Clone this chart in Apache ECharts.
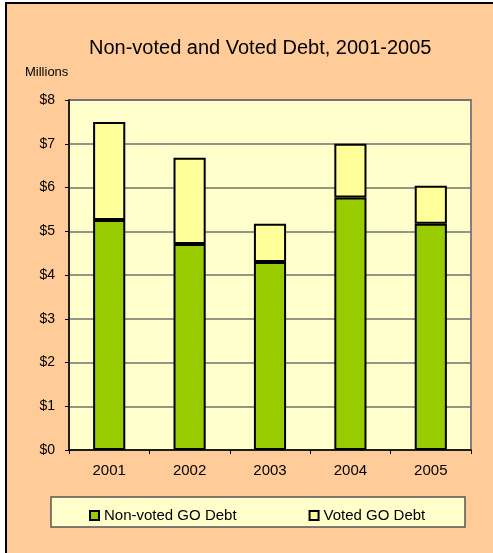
<!DOCTYPE html>
<html>
<head>
<meta charset="utf-8">
<script src="https://cdn.jsdelivr.net/npm/echarts@6/dist/echarts.min.js"></script>
<style>
html,body{margin:0;padding:0;background:#fff;overflow:hidden;width:493px;height:553px;}
#frame{position:absolute;left:5px;top:2px;width:488px;height:551px;background:#FFCC99;border-left:2.5px solid #000;border-top:2.5px solid #000;box-sizing:border-box;}
#chart{position:absolute;left:0;top:0;width:493px;height:553px;}
</style>
</head>
<body>
<div id="frame"></div>
<div id="chart"></div>
<script>
const categories = ['2001', '2002', '2003', '2004', '2005'];
const nonVoted = [5.26, 4.71, 4.30, 5.77, 5.17];
const voted = [2.24, 1.97, 0.87, 1.23, 0.87];
const yTicks = [0, 1, 2, 3, 4, 5, 6, 7, 8];
const seriesNames = ['Non-voted GO Debt', 'Voted GO Debt'];

const font = 'Arial, "Liberation Sans", sans-serif';
const chart = echarts.init(document.getElementById('chart'));
chart.setOption({
  backgroundColor: 'transparent',
  animation: false,
  textStyle: { fontFamily: font },
  title: {
    text: 'Non-voted and Voted Debt, 2001-2005',
    left: 84, top: 33,
    textStyle: { fontSize: 20, fontWeight: 'normal', color: '#000', fontFamily: font }
  },
  graphic: [
    { type: 'text', left: 25, top: 66, style: { text: 'Millions', fontSize: 13, fill: '#000', fontFamily: font } },
    { type: 'rect', z: 1, shape: { x: 51, y: 497, width: 414, height: 30 }, style: { fill: '#FFFFCC', stroke: '#555', lineWidth: 1.5 } }
  ],
  legend: {
    data: seriesNames,
    left: 84, top: 503,
    itemWidth: 9, itemHeight: 9, itemGap: 72,
    icon: 'rect',
    textStyle: { fontSize: 15, color: '#000', fontFamily: font }
  },
  grid: {
    left: 69, right: 22, top: 100, bottom: 103,
    show: true, backgroundColor: '#FFFFCC', borderColor: '#808080', borderWidth: 2
  },
  xAxis: {
    type: 'category', data: categories,
    axisLine: { lineStyle: { color: '#000', width: 1.5 } },
    axisTick: { show: true, length: 4, lineStyle: { color: '#000' } },
    axisLabel: { fontSize: 15, color: '#000', margin: 13, fontFamily: font }
  },
  yAxis: {
    type: 'value', min: yTicks[0], max: yTicks[yTicks.length - 1], interval: 1,
    axisLine: { show: true, lineStyle: { color: '#000', width: 1.5 } },
    axisTick: { show: true, length: 4, lineStyle: { color: '#000' } },
    axisLabel: { fontSize: 14, color: '#000', margin: 14, formatter: v => '$' + v, fontFamily: font },
    splitLine: { lineStyle: { color: '#707070', width: 1.5 } }
  },
  series: [
    { name: seriesNames[0], type: 'bar', stack: 'debt', data: nonVoted, barWidth: '40%',
      itemStyle: { color: '#99CC00', borderColor: '#000', borderWidth: 2 } },
    { name: seriesNames[1], type: 'bar', stack: 'debt', data: voted, barWidth: '40%',
      itemStyle: { color: '#FFFF99', borderColor: '#000', borderWidth: 2 } }
  ]
});
</script>
</body>
</html>
